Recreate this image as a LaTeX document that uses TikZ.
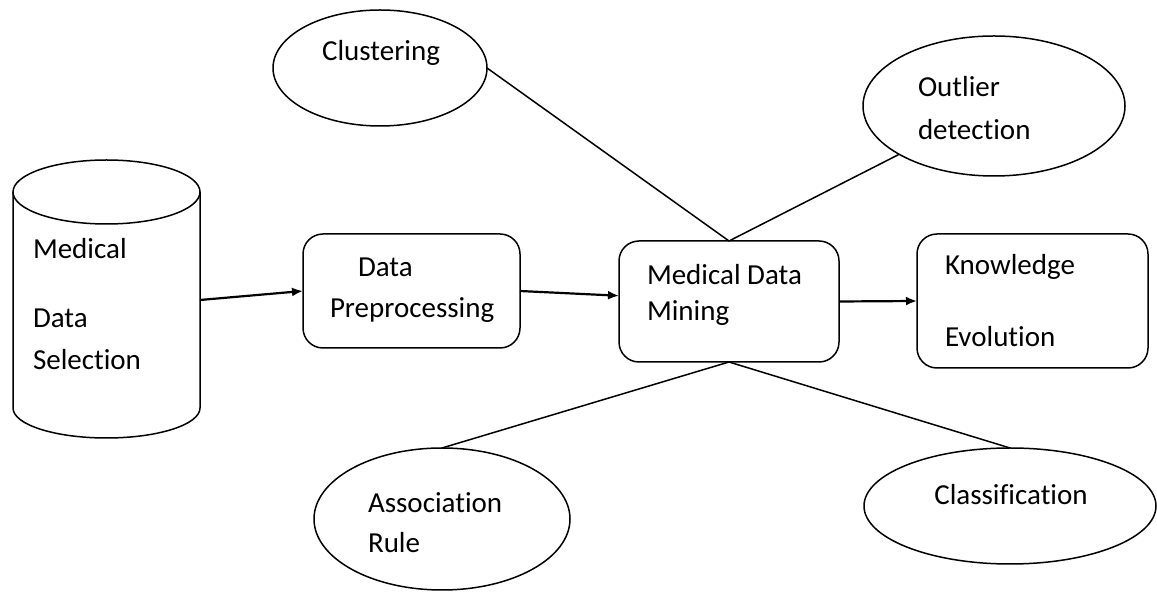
\documentclass[tikz,border=0pt]{standalone}
\usepackage{fontspec}
\setmainfont[Ligatures=NoCommon]{Carlito}
\usetikzlibrary{arrows.meta,shapes.geometric}
\begin{document}
\begin{tikzpicture}[x=0.5pt,y=-0.5pt,
  line width=0.75pt,
  every node/.style={font=\fontsize{14.5}{17}\selectfont, inner sep=0pt, outer sep=0pt},
  oval/.style={draw, ellipse, fill=white},
  procbox/.style={draw, rectangle, rounded corners=10pt, fill=white},
  lbl/.style={anchor=west},
  clbl/.style={anchor=center},
  arr/.style={line width=1.1pt, -{Latex[length=5.5pt,width=4.5pt]}}
]
\useasboundingbox (0,0) rectangle (1157,592);

% cylinder (Medical Data Selection)
\draw[fill=white] (13,192) -- (13,408) arc[start angle=180,end angle=0,x radius=93.5,y radius=30] -- (200,192);
\draw (106.5,192) ellipse[x radius=93.5, y radius=32];
\node[minimum width=93.5pt, minimum height=108pt] (sel) at (106.5,300) {};
\node[lbl] (t1) at (33,249) {Medical};
\node[lbl] (t2) at (33,318) {Data};
\node[lbl] (t3) at (33,360) {Selection};

% boxes
\node[procbox, minimum width=108.5pt, minimum height=57pt] (dp) at (411.5,291) {};
\node[lbl] at (358,267) {Data};
\node[lbl] at (330,310) {Preprocessing};

\node[procbox, minimum width=110pt, minimum height=60.5pt] (mdm) at (729,301.5) {};
\node[lbl] at (647,275) {Medical Data};
\node[lbl] at (647,313) {Mining};

\node[procbox, minimum width=115.5pt, minimum height=67pt] (know) at (1032.5,301) {};
\node[lbl] at (945,267) {Knowledge};
\node[lbl] at (945,337) {Evolution};

% ellipses
\node[oval, minimum width=107pt, minimum height=58pt] (clus) at (380,68) {};
\node[clbl] at (381,53) {Clustering};

\node[oval, minimum width=131pt, minimum height=70pt] (outl) at (994,106) {};
\node[lbl] at (918,87) {Outlier};
\node[lbl] at (918,130) {detection};

\node[oval, minimum width=128pt, minimum height=71pt] (assoc) at (442,519) {};
\node[lbl] at (368,503) {Association};
\node[lbl] at (368,543) {Rule};

\node[oval, minimum width=146pt, minimum height=58pt] (clas) at (1010,506) {};
\node[clbl] at (1011,495) {Classification};

% connectors
\draw[arr] (sel.east) -- (dp.west);
\draw[arr] (dp.east) -- (mdm.177);
\draw[arr] (mdm.east) -- (know.west);
\draw (clus.east) -- (mdm.north);
\draw (mdm.north) -- (outl);
\draw (mdm.south) -- (assoc.north);
\draw (mdm.south) -- (clas.north);
\end{tikzpicture}
\end{document}
